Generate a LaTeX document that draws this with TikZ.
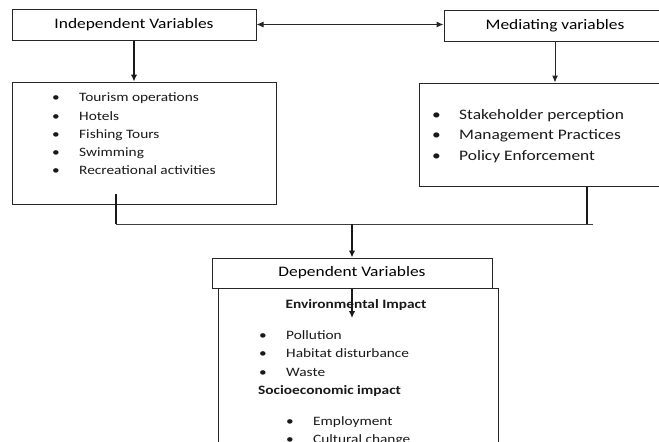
\documentclass[tikz,border=0pt]{standalone}
\usepackage{fontspec}
\setmainfont{Carlito}[FakeStretch=1.2]
\usepackage{tikz}
\usetikzlibrary{positioning, arrows.meta}

\newcommand\hdfont{\fontsize{14.5}{17}\selectfont}
\newcommand\itfont{\fontsize{12.8}{15}\selectfont}
\newcommand\bul[1]{\makebox[27pt][l]{\textbullet}#1}

\tikzset{
  hdbox/.style = {draw=black!85, line width=1pt, font=\hdfont, inner sep=0pt},
  listbox/.style = {draw=black!85, line width=1pt, inner sep=0pt},
  itemtxt/.style = {anchor=base west, inner sep=0pt, font=\itfont, text=black!90},
  thinarr/.style = {-{Latex[length=7pt,width=6pt]}, line width=1pt, black!85},
  thickarr/.style = {-{Latex[length=7pt,width=6.5pt]}, line width=2pt, black!90}
}

\begin{document}
\begin{tikzpicture}[x=1pt, y=-1pt]
    \useasboundingbox (0,0) rectangle (659,442);
    \clip (0,0) rectangle (659,442);

    % boxes
    \node[hdbox, minimum width=244pt, minimum height=31pt] (indep) at (134,24.5) {Independent Variables};
    \node[hdbox, minimum width=222pt, minimum height=31pt] (medi) at (555,25.5) {Mediating variables};
    \node[listbox, minimum width=264pt, minimum height=122pt] (indlist) at (144,143) {};
    \node[listbox, minimum width=261pt, minimum height=103pt] (medlist) at (549.5,134.5) {};
    \node[hdbox, minimum width=280pt, minimum height=30pt] (dep) at (352,273) {Dependent Variables};
    \node[listbox, minimum width=280pt, minimum height=182pt] (deplist) at (358,379) {};

    % list items
    \foreach \t [count=\i from 0] in {Tourism operations, Hotels, Fishing Tours, Swimming, Recreational activities}
        \node[itemtxt] (ind\i) at (52,101.7+18.3*\i) {\bul{\t}};
    \foreach \t [count=\i from 0] in {Stakeholder perception, Management Practices, Policy Enforcement}
        \node[itemtxt, font=\hdfont] (med\i) at (432,119+20.8*\i) {\bul{\t}};
    \node[itemtxt, anchor=base, font=\itfont\bfseries] (envh) at (356,308.3) {Environmental Impact};
    \foreach \t [count=\i from 0] in {Pollution, Habitat disturbance, Waste}
        \node[itemtxt] (env\i) at (259,339.3+18.4*\i) {\bul{\t}};
    \node[itemtxt, font=\itfont\bfseries] (soch) at (258,394.3) {Socioeconomic impact};
    \foreach \t [count=\i from 0] in {Employment, Cultural change}
        \node[itemtxt] (soc\i) at (286,425+18.4*\i) {\bul{\t}};

    % connectors
    \coordinate (indout) at (116,194);
    \coordinate (jl) at (116,224);
    \coordinate (jr) at (587,224);
    \coordinate (jend) at (593,224);
    \coordinate (jm) at (352,224);
    \coordinate (envin) at (352,318);

    \draw[{Latex[length=7pt,width=6pt]}-{Latex[length=7pt,width=6pt]}, line width=1pt, black!85]
        (indep.east) -- (indep.east -| medi.west);
    \draw[thickarr] (indep.south) -- (indep.south |- indlist.north);
    \draw[thinarr] (medi.south) -- (medi.south |- medlist.north);
    \draw[line width=2pt, black!90] (indout) -- (jl);
    \draw[line width=1pt, black!75] (jl) -- (jend);
    \draw[line width=2pt, black!90] (jr |- medlist.south) -- (jr);
    \draw[thickarr] (jm) -- (dep.north);
    \draw[thickarr] (dep.south) -- (envin);
\end{tikzpicture}
\end{document}
